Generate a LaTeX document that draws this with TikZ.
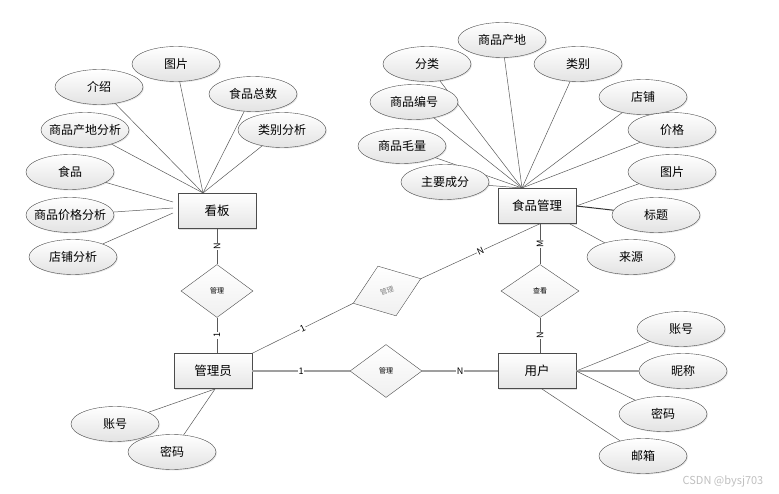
\documentclass[tikz,border=0pt]{standalone}
\usepackage{fontspec}
\setmainfont{Noto Sans CJK SC}
\usetikzlibrary{shapes.geometric,shadows,calc}

\tikzset{
  entity/.style={draw=black!70, top color=white, bottom color=gray!20,
    minimum width=78pt, minimum height=35pt, inner sep=0pt,
    font=\fontsize{12.5}{12.5}\selectfont,
    drop shadow={shadow xshift=1.2pt, shadow yshift=-1.2pt, opacity=0.25}},
  attr/.style={ellipse, draw=black!70, top color=white, bottom color=gray!22,
    minimum width=88pt, minimum height=35pt, inner sep=0pt,
    font=\fontsize{12}{12}\selectfont,
    drop shadow={shadow xshift=1pt, shadow yshift=-1pt, opacity=0.2}},
  rel/.style={diamond, draw=black!70, top color=white, bottom color=gray!12,
    minimum width=72pt, minimum height=53pt, inner sep=0pt,
    font=\fontsize{7}{7}\selectfont},
  card/.style={fill=white, inner sep=0.6pt, font=\fontsize{9}{9}\selectfont},
  link/.style={draw=black!65, line width=0.5pt},
  heavy/.style={draw=gray!75, line width=1.4pt},
}

% attribute ellipse + line to its owner
\newcommand\attrib[5]{%
  \node[attr] (#1) at (#2,#3) {\makebox[0pt]{#4}};
  \draw[link] (#1) -- (#5);
}

\begin{document}
\begin{tikzpicture}[x=1pt,y=-1pt]
  \useasboundingbox (0,0) rectangle (779,494);

  % The entities
  \node[entity] (kb) at (217,211) {看板};
  \node[entity] (spgl) at (537,206) {食品管理};
  \node[entity] (gly) at (213,371) {管理员};
  \node[entity] (yh) at (537,371) {用户};

  % The relations
  \node[rel] (glkb) at (217,291) {管理};
  \node[rel, rotate=20, text=gray] (glsp) at (387,291) {管理};
  \node[rel, minimum width=78pt] (ck) at (540,291) {查看};
  \node[rel] (glyh) at (386,371) {管理};

  % Connection points on the boxes
  \coordinate (kbtop) at (203,193);
  \coordinate (kbl1) at (173,202);
  \coordinate (kbl2) at (173,208);
  \coordinate (kbl3) at (173,213);
  \coordinate (sptop) at (522,188);
  \coordinate (spbot) at (570,224);
  \coordinate (yhbot) at (542,389);
  \coordinate (glybot) at (215,389);

  % Relation lines
  \draw[link] (kb) -- node[card, rotate=90] {N} (glkb);
  \draw[link] (glkb) -- node[card, rotate=90] {1} (glkb.south |- gly.north);
  \draw[link] (gly.north east) -- node[card, sloped] {1} (glsp.west);
  \draw[link] (glsp.east) -- node[card, sloped] {N} (ck.north |- spgl.south);
  \draw[link] (ck.north |- spgl.south) -- node[card, rotate=90] {M} (ck);
  \draw[link] (ck) -- node[card, rotate=90] {N} (ck.south |- yh.north);
  \draw[heavy] (gly) -- node[card] {1} (glyh);
  \draw[heavy] (glyh) -- node[card] {N} (yh);

  % Kanban attributes
  \attrib{js}{99}{87}{介绍}{kbtop}
  \attrib{tp}{176}{64}{图片}{kbtop}
  \attrib{spzs}{253}{94}{食品总数}{kbtop}
  \attrib{lbfx}{282}{130}{类别分析}{kbtop}
  \attrib{cdfx}{85}{130}{商品产地分析}{kbtop}
  \attrib{sp}{70}{172}{食品}{kbl1}
  \attrib{jgfx}{70}{215}{商品价格分析}{kbl2}
  \attrib{dpfx}{73}{257}{店铺分析}{kbl3}

  % Food attributes
  \attrib{spcd}{502}{40}{商品产地}{sptop}
  \attrib{fl}{427}{64}{分类}{sptop}
  \attrib{lb}{578}{64}{类别}{sptop}
  \attrib{spbh}{414}{102}{商品编号}{sptop}
  \attrib{dp}{643}{97}{店铺}{sptop}
  \attrib{jg}{672}{130}{价格}{sptop}
  \attrib{spml}{402}{146}{商品毛量}{sptop}
  \attrib{zycf}{445}{182}{主要成分}{sptop}
  \attrib{sptp}{672}{172}{图片}{spgl.east}
  \node[attr] (bt) at (656,215) {标题};
  \draw[link, line width=1pt, draw=black!80] (bt) -- (spgl.east);
  \attrib{ly}{631}{257}{来源}{spbot}

  % User attributes
  \attrib{yhzh}{681}{329}{账号}{yh.east}
  \node[attr] (nc) at (683,371) {昵称};
  \draw[heavy] (nc) -- (yh.east);
  \attrib{yhmm}{663}{414}{密码}{yh.east}
  \attrib{yx}{643}{456}{邮箱}{yhbot}

  % Admin attributes
  \attrib{glzh}{115}{424}{账号}{glybot}
  \attrib{glmm}{172}{452}{密码}{glybot}

  \node[text=gray!50, font=\fontsize{11}{11}\selectfont] (wm) at (723,481) {CSDN @bysj703};
\end{tikzpicture}
\end{document}
